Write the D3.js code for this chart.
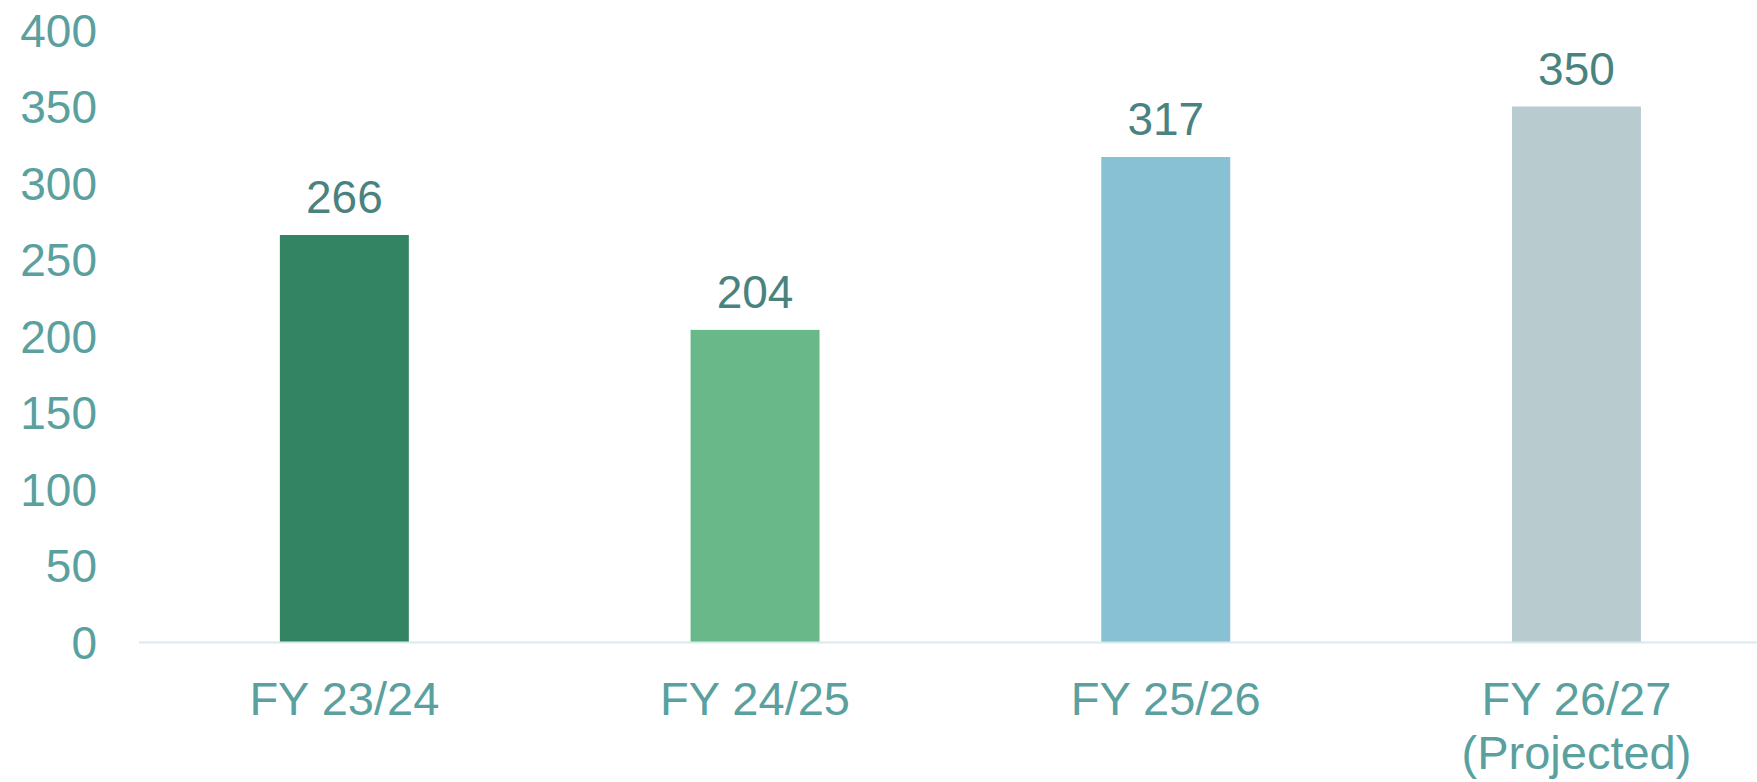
<!DOCTYPE html>
<html>
<head>
<meta charset="utf-8">
<script src="https://cdn.jsdelivr.net/npm/d3@7"></script>
<style>
  html, body { margin: 0; padding: 0; background: #fff; }
  svg text { font-family: "Liberation Sans", Arial, sans-serif; }
</style>
</head>
<body>
<div id="chart"></div>
<script>
// Chart data
const categories = ["FY 23/24", "FY 24/25", "FY 25/26", "FY 26/27\n(Projected)"];
const values = [266, 204, 317, 350];
const barColors = ["#338463", "#69b88a", "#87c1d3", "#b8cccf"];
const yTicks = [0, 50, 100, 150, 200, 250, 300, 350, 400];

const width = 1757, height = 782;
const baseY = 642, topY = 30;
const left = 139;

const svg = d3.select("#chart")
    .append("svg")
    .attr("width", width)
    .attr("height", height);

// Scales
const x = d3.scaleBand()
    .domain(categories)
    .range([left, left + 4 * 410.7])
    .paddingInner(0.686)
    .paddingOuter(0.343);

const y = d3.scaleLinear()
    .domain([0, 400])
    .range([baseY, topY]);

// Y axis labels (no line, no ticks)
const yAxis = svg.append("g")
    .attr("transform", "translate(97,0)")
    .call(d3.axisLeft(y).tickValues(yTicks).tickSize(0).tickPadding(0));
yAxis.select(".domain").remove();
yAxis.selectAll("text")
    .attr("fill", "#5aa09f")
    .style("font-size", "46px")
    .attr("dy", "0.35em");

// Bars
svg.selectAll("rect.bar")
    .data(values)
    .enter()
    .append("rect")
    .attr("class", "bar")
    .attr("x", (d, i) => x(categories[i]))
    .attr("y", d => y(d))
    .attr("width", x.bandwidth())
    .attr("height", d => baseY - y(d))
    .attr("fill", (d, i) => barColors[i]);

// Baseline
svg.append("line")
    .attr("x1", left)
    .attr("x2", width)
    .attr("y1", baseY + 0.5)
    .attr("y2", baseY + 0.5)
    .attr("stroke", "#d9e9ec")
    .attr("stroke-width", 2);

// Value labels
svg.selectAll("text.val")
    .data(values)
    .enter()
    .append("text")
    .attr("class", "val")
    .attr("x", (d, i) => x(categories[i]) + x.bandwidth() / 2)
    .attr("y", d => y(d) - 22)
    .attr("text-anchor", "middle")
    .attr("fill", "#4a8280")
    .style("font-size", "46px")
    .text(d => d);

// Category labels
const catLabels = svg.selectAll("text.cat")
    .data(categories)
    .enter()
    .append("text")
    .attr("class", "cat")
    .attr("text-anchor", "middle")
    .attr("fill", "#5aa09f")
    .style("font-size", "47px");

catLabels.each(function(d) {
    const cx = x(d) + x.bandwidth() / 2;
    const lines = d.split("\n");
    d3.select(this).selectAll("tspan")
        .data(lines)
        .enter()
        .append("tspan")
        .attr("x", cx)
        .attr("y", (l, j) => 715 + j * 54)
        .text(l => l);
});
</script>
</body>
</html>
